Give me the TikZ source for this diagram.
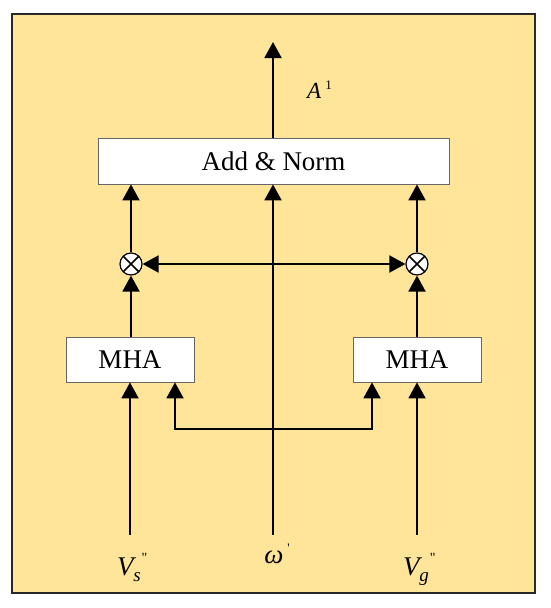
\documentclass[tikz,border=0pt]{standalone}
\usepackage{amsmath}
\usepackage{fontspec}
\setmainfont{Liberation Serif}
\newfontfamily\rawserif{Liberation Serif}[Ligatures=TeXOff]
\usetikzlibrary{arrows.meta}
\definecolor{bgyellow}{RGB}{255,229,153}
\definecolor{framegray}{RGB}{40,40,40}
\newcommand{\dprimemark}{\raisebox{13pt}{\fontsize{14}{15}\rawserif\selectfont "}}
\begin{document}
\begin{tikzpicture}[x=1pt,y=-1pt,
  conn/.style={line width=1.9pt,-{Triangle[width=17pt,length=16pt]}},
  conn2/.style={line width=1.9pt,{Triangle[width=17pt,length=16pt]}-{Triangle[width=17pt,length=16pt]}},
  wbox/.style={draw=black!60,line width=0.8pt,fill=white,inner sep=0pt,font=\fontsize{27}{30}\selectfont},
  otimesnode/.style={circle,draw=black,line width=1.2pt,fill=white,minimum size=22pt,inner sep=0pt,
    path picture={\draw[line width=1.5pt] (path picture bounding box.north west)--(path picture bounding box.south east)
      (path picture bounding box.north east)--(path picture bounding box.south west);}},
  lbl/.style={font=\fontsize{27}{30}\selectfont,inner sep=0pt}]
\useasboundingbox (0,0) rectangle (550,608);
\draw[framegray,line width=2pt,fill=bgyellow] (12,14) rectangle (535,593);

\node[wbox,minimum width=351pt,minimum height=46pt] (an) at (273.5,161) {Add \& Norm};
\node[wbox,minimum width=128pt,minimum height=45pt] (mhaL) at (130,359.5) {MHA};
\node[wbox,minimum width=128pt,minimum height=45pt] (mhaR) at (417,359.5) {MHA};
\node[otimesnode] (otL) at (131,264) {};
\node[otimesnode] (otR) at (417,264) {};

\coordinate (top) at (273,42);
\coordinate (inL) at (130,535);
\coordinate (inC) at (273,535);
\coordinate (inR) at (417,535);
\coordinate (hbL) at (175,429);
\coordinate (hbR) at (372,429);

% labels
\node[lbl,anchor=base west] (Alab) at (307,98) {\fontsize{23}{26}\selectfont\textit{A}\hspace{4pt}\raisebox{9pt}{\fontsize{13}{14}\selectfont 1}};
\node[lbl,anchor=base west] (Vs) at (117,575) {\textit{V}\hspace{-3pt}\raisebox{-6pt}{\fontsize{19}{20}\selectfont\textit{s}}\hspace{1pt}\dprimemark};
\node[lbl,anchor=base] (om) at (277,563) {\textit{ω}\hspace{4pt}\raisebox{11pt}{\fontsize{13}{14}\rawserif\selectfont '}};
\node[lbl,anchor=base west] (Vg) at (403,575) {\textit{V}\hspace{-3pt}\raisebox{-6pt}{\fontsize{19}{20}\selectfont\textit{g}}\hspace{1pt}\dprimemark};

% connectors
\draw[conn] (an.north -| top) -- (top);
\draw[conn] (inC) -- (an.south -| inC);
\draw[conn] (otL) -- (an.south -| otL);
\draw[conn] (otR) -- (an.south -| otR);
\draw[conn] (mhaL.north -| otL) -- (otL);
\draw[conn] (mhaR.north -| otR) -- (otR);
\draw[conn2] (otL) -- (otR);
\draw[conn] (inL) -- (mhaL.south -| inL);
\draw[conn] (inR) -- (mhaR.south -| inR);
\draw[conn2] (mhaL.south -| hbL) -- (hbL) -- (hbR) -- (mhaR.south -| hbR);
\end{tikzpicture}
\end{document}
